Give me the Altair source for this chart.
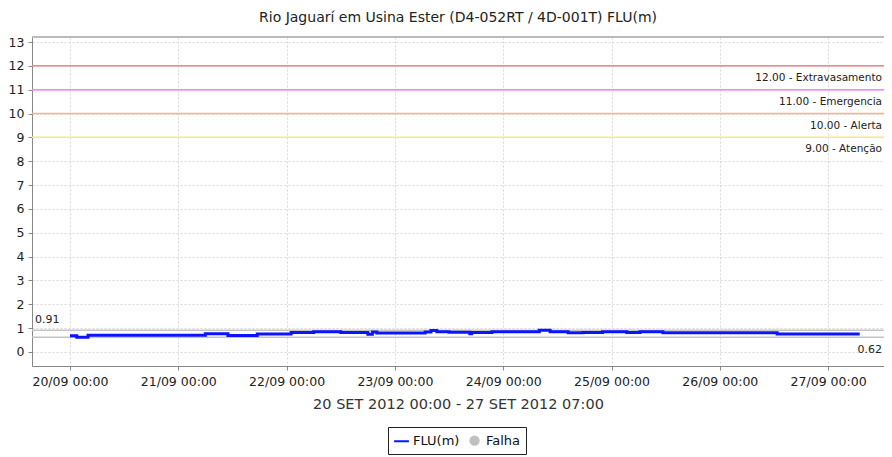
import altair as alt
import pandas as pd

# ---- data ----
hours = [0, 1.5, 4, 30, 35, 41.5, 49, 54, 60, 66, 67, 68, 78.7, 80, 81.3, 84,
         88.6, 89, 93.5, 104, 106.4, 110.4, 113.7, 118, 123.4, 126.3, 131.4, 156.7, 175]
values = [0.68, 0.62, 0.70, 0.76, 0.69, 0.75, 0.81, 0.85, 0.81, 0.74, 0.84, 0.79,
          0.84, 0.90, 0.85, 0.83, 0.76, 0.81, 0.85, 0.91, 0.85, 0.80, 0.82, 0.85,
          0.82, 0.85, 0.80, 0.75, 0.75]

levels = [12, 11, 10, 9]
level_names = ["Extravasamento", "Emergencia", "Alerta", "Atenção"]
level_colors = ["#ff8080", "#ff80ff", "#ffb27f", "#ffe680"]

stat_values = [0.91, 0.62]
stat_labels = ["0.91", "0.62"]

series_names = ["FLU(m)", "Falha"]
series_colors = ["#0a14ff", "#c0c0c0"]

day_ticks = [20, 21, 22, 23, 24, 25, 26, 27]
y_ticks = list(range(0, 14))

base = pd.Timestamp("2012-09-20 00:00")
df = pd.DataFrame({
    "t": [(base + pd.Timedelta(hours=h)).strftime("%Y-%m-%dT%H:%M:%S") for h in hours],
    "v": values,
    "serie": "FLU(m)",
})
thr = pd.DataFrame({
    "v": levels,
    "label": [f"{l:.2f} - {n}" for l, n in zip(levels, level_names)],
    "cor": level_colors,
})
stats = pd.DataFrame({"v": stat_values, "label": stat_labels})

W, H = 852, 329
FONT = "DejaVu Sans"

xscale = alt.Scale(domain=[alt.DateTime(year=2012, month=9, date=19, hours=15, minutes=35),
                           alt.DateTime(year=2012, month=9, date=27, hours=12, minutes=23)])
yscale = alt.Scale(domain=[-0.59, 13.21], nice=False, zero=False)

x_enc = alt.X("t:T", scale=xscale, title="20 SET 2012 00:00 - 27 SET 2012 07:00",
              axis=alt.Axis(values=[alt.DateTime(year=2012, month=9, date=d) for d in day_ticks],
                            format="%d/%m %H:%M", labelFontSize=12.5, labelColor="#222",
                            labelFont=FONT, titleFont=FONT, titleFontSize=14.5,
                            titleFontWeight="normal", titleColor="#333", titlePadding=10,
                            domainColor="#888", tickColor="#888", tickSize=4,
                            gridDash=[2, 2], gridColor="#d8d8d8", labelPadding=5,
                            labelOverlap=False))
y_axis = alt.Axis(values=y_ticks, labelFontSize=12.5, labelColor="#222",
                  labelFont=FONT, domainColor="#888", tickColor="#888",
                  tickSize=4, gridDash=[2, 2], gridColor="#d8d8d8",
                  labelPadding=4, labelOverlap=False, title=None)


def yq():
    return alt.Y("v:Q", scale=yscale, axis=y_axis, title=None)


legend = alt.Legend(
    title=None, orient="none", legendX=356, legendY=390, direction="horizontal",
    strokeColor="#222", padding=5, labelFontSize=13, labelFont=FONT, labelColor="#111",
    symbolType=alt.ExprRef("datum.value == 'Falha' ? 'circle' : 'stroke'"),
    symbolSize=alt.ExprRef("datum.value == 'Falha' ? 70 : 220"),
    symbolFillColor=alt.ExprRef("datum.value == 'Falha' ? '#c0c0c0' : 'transparent'"),
    symbolStrokeWidth=2, columnPadding=6, labelOffset=3,
)

line = alt.Chart(df).mark_line(interpolate="step-after", strokeWidth=3).encode(
    x=x_enc, y=yq(),
    color=alt.Color("serie:N", scale=alt.Scale(domain=series_names, range=series_colors),
                    legend=legend),
)

frame = alt.Chart(df).mark_rule(color="#bbb", strokeWidth=1).encode(
    x=alt.value(0), x2=alt.value(W), y=alt.value(0))

rules = alt.Chart(thr).mark_rule(strokeWidth=1.5).encode(
    y=yq(),
    stroke=alt.Stroke("cor:N", scale=None),
)
rule_text = alt.Chart(thr).mark_text(align="right", baseline="top", dy=7, fontSize=10.5,
                                     font=FONT, color="#222").encode(
    y=yq(), x=alt.value(W - 2), text="label:N")

stat_rules = alt.Chart(stats).mark_rule(color="#c4c4c4", strokeWidth=1.5).encode(y=yq())
max_text = alt.Chart(stats).transform_filter("datum.v > 0.8").mark_text(
    align="left", baseline="bottom", dy=-5, fontSize=11, font=FONT, color="#222").encode(
    y=yq(), x=alt.value(3), text="label:N")
min_text = alt.Chart(stats).transform_filter("datum.v < 0.8").mark_text(
    align="right", baseline="top", dy=7, fontSize=11, font=FONT, color="#222").encode(
    y=yq(), x=alt.value(W - 2), text="label:N")

chart = alt.layer(frame, rules, rule_text, stat_rules, max_text, min_text, line).properties(
    width=W, height=H,
    title=alt.Title("Rio Jaguarí em Usina Ester (D4-052RT / 4D-001T) FLU(m)",
                    fontSize=14, font=FONT, fontWeight="normal", color="#222",
                    anchor="middle", offset=11),
    autosize=alt.AutoSizeParams(type="none"),
    padding={"left": 24, "top": 29, "right": 0, "bottom": 91},
).configure_view(stroke=None).configure(background="white")

chart.save("out.html", embed_options={"renderer": "svg", "actions": False})
